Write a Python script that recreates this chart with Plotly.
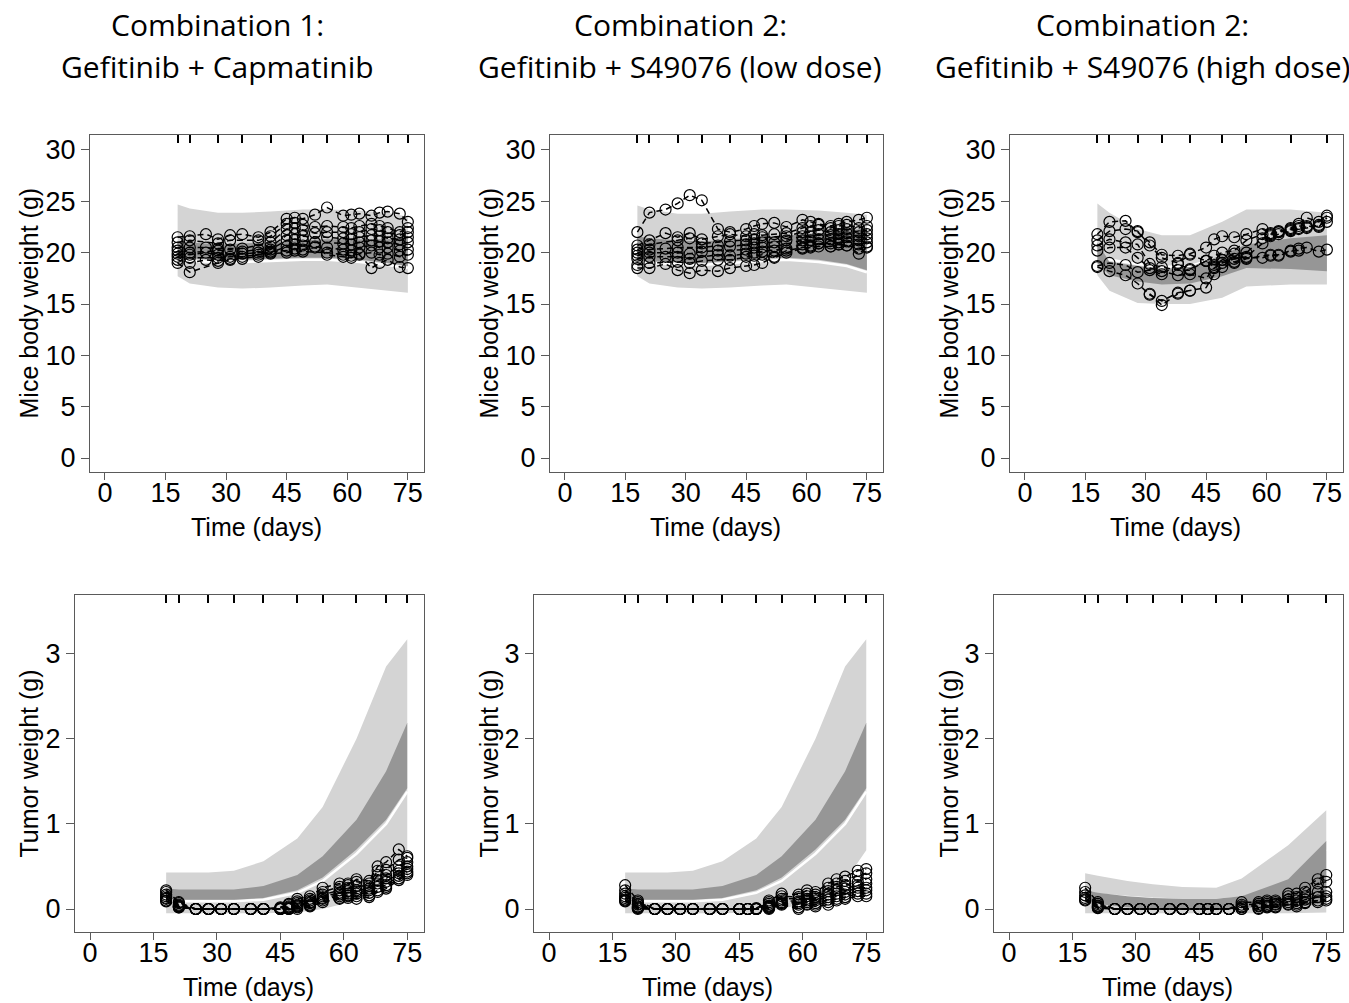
import plotly.graph_objects as go

# ---------------- data ----------------
DAYS = [18, 21, 25, 28, 31, 34, 38, 41, 45, 47, 49, 52, 55, 59, 61, 63, 66, 68, 70, 73, 75]
BINS = [18, 21, 28, 34, 41, 49, 55, 63, 70, 75]
BINS_HIGH = [18, 21, 28, 34, 41, 49, 55, 66, 75]
RUG_COMBO = [18, 21, 28, 34, 41, 49, 55, 63, 70, 75]
RUG_HIGH = [18, 21, 28, 34, 41, 49, 55, 66, 75]

TITLE_TOP = ["Combination 1:", "Combination 2:", "Combination 2:"]
TITLE_BOTTOM = ["Gefitinib + Capmatinib", "Gefitinib + S49076 (low dose)", "Gefitinib + S49076 (high dose)"]
X_TICKS = [0, 15, 30, 45, 60, 75]
BW_TICKS = [0, 5, 10, 15, 20, 25, 30]
TW_TICKS = [0, 1, 2, 3]

# Body weight bands: combination 1
BW1_LO = [17.7, 17.0, 16.6, 16.5, 16.6, 16.8, 16.9, 16.6, 16.3, 16.1]
BW1_GAP = [19.3, 19.2, 19.1, 19.1, 19.2, 19.3, 19.3, 19.1, 18.8, 18.5]
BW1_LOM = [19.5, 19.4, 19.3, 19.3, 19.4, 19.5, 19.5, 19.3, 19.0, 18.7]
BW1_HIM = [21.1, 21.0, 20.8, 20.9, 21.0, 21.2, 21.3, 21.3, 21.3, 21.5]
BW1_HI = [24.7, 24.3, 23.9, 23.9, 24.0, 24.2, 24.2, 24.1, 23.9, 23.5]

# Body weight bands: combination 2 low dose
BW2_LO = [17.7, 17.0, 16.6, 16.5, 16.6, 16.8, 16.9, 16.6, 16.3, 16.1]
BW2_GAP = [19.0, 19.0, 18.9, 18.8, 19.0, 19.2, 19.3, 19.1, 18.7, 18.1]
BW2_LOM = [19.2, 19.2, 19.1, 19.0, 19.2, 19.4, 19.5, 19.3, 18.9, 18.3]
BW2_HIM = [21.6, 21.4, 21.2, 21.1, 21.3, 21.5, 21.7, 21.9, 22.1, 22.4]
BW2_HI = [24.6, 24.2, 23.8, 23.8, 24.0, 24.2, 24.2, 24.1, 23.9, 23.7]

# Body weight bands: combination 2 high dose
BW3_LO = [17.8, 16.3, 15.1, 15.0, 15.0, 15.6, 16.7, 16.9, 16.9]
BW3_GAP = [19.5, 19.3, 18.9, 18.6, 18.7, 19.6, 20.4, 20.9, 21.0]
BW3_LOM = [19.0, 17.8, 17.2, 16.9, 17.0, 17.7, 18.5, 18.4, 18.2]
BW3_HIM = [21.0, 19.1, 18.7, 18.4, 18.6, 19.8, 20.8, 21.4, 21.7]
BW3_HI = [24.8, 23.9, 22.3, 21.7, 21.7, 23.0, 24.2, 24.2, 23.9]

# Tumor weight bands
TW1_LO = [-0.05, -0.05, -0.05, -0.05, -0.05, -0.04, 0.0, 0.10, 0.35, 0.70]
TW1_GAP = [0.10, 0.09, 0.09, 0.09, 0.11, 0.19, 0.33, 0.65, 1.00, 1.38]
TW1_LOM = [0.12, 0.11, 0.11, 0.11, 0.13, 0.22, 0.37, 0.70, 1.05, 1.42]
TW1_HIM = [0.24, 0.23, 0.23, 0.23, 0.27, 0.40, 0.62, 1.05, 1.62, 2.19]
TW1_HI = [0.43, 0.43, 0.43, 0.45, 0.56, 0.83, 1.20, 2.00, 2.85, 3.17]

TW2_LO = [-0.05, -0.05, -0.05, -0.05, -0.05, -0.04, 0.0, 0.10, 0.33, 0.69]
TW2_GAP = [0.10, 0.09, 0.09, 0.09, 0.11, 0.19, 0.33, 0.65, 1.00, 1.38]
TW2_LOM = [0.12, 0.11, 0.11, 0.11, 0.13, 0.22, 0.37, 0.70, 1.05, 1.42]
TW2_HIM = [0.24, 0.23, 0.23, 0.23, 0.27, 0.40, 0.62, 1.05, 1.62, 2.19]
TW2_HI = [0.43, 0.43, 0.43, 0.45, 0.56, 0.83, 1.20, 2.00, 2.85, 3.17]

TW3_LO = [-0.05, -0.05, -0.05, -0.05, -0.05, -0.05, -0.05, -0.05, -0.04]
TW3_GAP = [0.20, 0.17, 0.14, 0.12, 0.11, 0.11, 0.13, 0.30, 0.70]
TW3_LOM = [0.10, 0.06, 0.02, 0.00, 0.00, 0.00, 0.01, 0.03, 0.06]
TW3_HIM = [0.22, 0.19, 0.15, 0.13, 0.12, 0.12, 0.15, 0.35, 0.80]
TW3_HI = [0.42, 0.39, 0.33, 0.29, 0.26, 0.25, 0.36, 0.75, 1.16]

N = None
# Observed individual body weights (one list per mouse, values at DAYS)
BW1_MICE = [
    [21.5, 21.6, 21.8, 21.3, 21.7, 21.8, 21.5, 22.0, 23.3, 23.4, 23.3, 23.7, 24.4, 23.6, 23.7, 23.8, 23.6, 23.9, 24.0, 23.8, 23.0],
    [21.0, 21.2, N, 20.9, 21.2, N, 21.2, 21.6, 22.8, 22.9, 22.7, 22.5, 22.6, 22.5, 22.4, 22.6, 22.8, 22.6, 22.4, 22.0, 22.4],
    [20.5, 20.5, 20.5, 20.4, N, 20.4, N, 21.0, 22.3, 22.4, 22.2, 21.9, 22.0, 22.0, 21.8, 22.0, 22.3, 22.2, 22.0, 21.7, 22.0],
    [20.2, 20.0, N, 20.2, 20.3, 20.1, 20.3, 20.6, 21.7, 21.8, 21.6, N, 21.5, 21.4, 21.3, 21.5, 21.7, 21.6, 21.4, 21.3, 21.5],
    [19.9, 19.8, 20.0, 19.8, N, 19.9, 20.0, 20.3, 21.2, 21.3, 21.2, 21.0, N, 20.9, 20.8, 21.0, 21.2, 21.1, 21.0, 20.8, 21.0],
    [19.6, 19.5, N, 19.5, 19.6, 19.6, N, 20.0, 20.6, 20.8, 20.7, 20.6, 20.5, 20.3, 20.2, 20.5, 20.7, 20.5, 20.5, 20.2, 20.3],
    [19.3, 19.0, 19.3, 19.2, 19.4, N, 19.6, 19.9, 20.0, 20.2, 20.1, N, 20.0, 19.8, 19.7, 19.9, 20.0, 19.8, 19.9, 19.6, 19.8],
    [19.0, 18.1, N, 19.0, 19.3, 19.4, 19.8, 20.1, 20.2, 20.4, 20.3, 20.5, 19.8, 19.6, 19.5, 19.8, 18.5, 19.0, 19.3, 18.6, 18.5],
]
BW2_MICE = [
    [22.0, 23.9, 24.2, 24.8, 25.6, 25.1, 22.3, 22.0, 22.3, 22.6, 22.8, 22.9, 22.5, 23.2, 23.0, 22.8, 22.6, 22.8, 23.0, 23.2, 23.4],
    [18.5, 18.5, 18.9, 18.3, 18.0, 18.3, 18.2, 18.5, 18.7, 18.8, 19.0, 19.6, 20.2, 20.5, 20.6, 20.9, 20.6, 20.8, 20.7, 20.4, 20.6],
    [20.7, 21.2, 21.9, 21.5, 21.9, 21.3, 21.6, 21.8, 21.6, 21.8, 21.7, 21.8, 21.9, 22.4, 22.6, 22.7, 22.4, 22.6, 22.7, 22.4, 22.6],
    [20.3, 20.8, N, 21.2, 21.4, 20.9, N, 21.1, 21.2, 21.3, 21.5, N, 21.6, 22.0, 22.0, 22.2, 22.0, 22.2, 22.3, 22.0, 22.2],
    [20.0, 20.3, 20.4, 20.5, N, 20.5, 20.7, 20.6, 20.8, 20.9, 21.0, 21.0, 21.2, 21.6, 21.6, 21.8, 21.7, 21.8, 21.9, 21.6, 21.8],
    [19.7, 20.0, N, 20.0, 19.9, 20.1, 20.2, N, 20.3, 20.5, 20.5, 20.6, N, 21.2, 21.2, 21.3, 21.3, 21.4, 21.5, 21.2, 21.4],
    [19.4, 19.6, 19.6, 19.6, 19.4, N, 19.8, 19.7, 19.9, 20.0, 20.1, 20.2, 20.4, 20.8, 20.7, 20.9, 20.9, 21.0, 21.1, 20.8, 21.0],
    [18.8, 19.0, N, 19.1, 19.0, 19.2, 19.3, 19.3, 19.6, 19.7, 19.8, 19.5, 20.0, 20.4, 20.5, 20.6, 20.6, 20.8, 20.7, 19.9, 20.5],
]
BW3_MICE = [
    [21.8, 23.0, 23.1, 22.0, 21.0, 19.8, 19.7, 19.9, 20.5, 21.3, 21.6, 21.5, 21.8, 22.3, 21.9, 22.0, 22.4, 22.8, 23.4, 23.0, 23.6],
    [21.2, 22.1, 22.3, 22.1, 20.7, 19.5, 19.0, 19.8, 19.2, 19.7, 20.0, 20.2, 21.2, 21.8, 21.8, 22.1, 22.3, 22.6, 22.6, 22.5, 23.4],
    [20.7, 21.3, 21.0, 20.8, 18.9, 18.6, 18.3, 18.3, 19.2, 18.8, 19.3, 19.9, 20.0, 21.4, 21.7, 22.0, 22.2, 22.4, 22.5, 22.7, 23.0],
    [20.2, 20.5, 20.5, 19.5, 18.5, 18.2, 17.8, 17.9, 17.5, 18.5, 19.0, 19.4, 19.6, 20.9, 21.6, 21.8, 22.1, 22.3, 22.4, 22.6, N],
    [18.7, 19.0, 18.8, 18.1, 18.3, 17.9, 18.9, 18.4, 19.2, 18.6, 19.3, 19.1, 19.5, 19.5, 19.7, 19.7, 20.1, 20.4, 20.5, 20.1, 20.3],
    [18.6, 18.2, 17.8, 17.0, 15.9, 15.3, 16.1, 16.3, 16.6, 17.9, 18.6, 19.0, 19.4, N, 19.8, 19.8, 20.2, 20.2, N, N, N],
    [N, N, N, N, 16.0, 14.9, 16.0, 16.3, N, N, N, N, N, N, N, N, N, N, N, N, N],
]
# Observed individual tumor weights
TW1_MICE = [
    [0.22, 0.08, 0, 0, 0, 0, 0, 0, 0.02, 0.06, 0.12, 0.15, 0.25, 0.30, 0.28, 0.35, 0.33, 0.50, 0.55, 0.70, 0.62],
    [0.20, 0.07, 0, 0, 0, 0, 0, 0, 0.01, 0.05, 0.09, 0.12, 0.20, 0.26, 0.30, 0.32, 0.30, 0.45, 0.46, 0.58, 0.60],
    [0.17, 0.05, 0, 0, 0, 0, 0, 0, 0.00, 0.03, 0.07, 0.10, 0.17, 0.22, 0.25, 0.27, 0.27, 0.40, 0.40, 0.50, 0.55],
    [0.15, 0.04, 0, 0, 0, 0, 0, 0, 0.00, 0.02, 0.05, 0.08, 0.15, 0.19, 0.21, 0.22, 0.24, 0.34, 0.36, 0.45, 0.50],
    [0.13, 0.03, 0, 0, 0, 0, 0, 0, 0.00, 0.01, 0.04, 0.07, 0.13, 0.17, 0.18, 0.20, 0.22, 0.30, 0.32, 0.42, 0.47],
    [0.12, 0.03, 0, 0, 0, 0, 0, 0, 0.00, 0.00, 0.03, 0.05, 0.12, 0.15, 0.16, 0.18, 0.19, 0.26, 0.28, 0.39, 0.44],
    [0.10, 0.02, 0, 0, 0, 0, 0, 0, 0.00, 0.00, 0.02, 0.04, 0.10, 0.13, 0.15, 0.15, 0.16, 0.22, 0.26, 0.36, 0.42],
    [0.09, 0.02, 0, 0, 0, 0, 0, 0, 0.00, 0.00, 0.00, 0.03, 0.08, 0.12, 0.13, 0.12, 0.14, 0.20, 0.24, 0.34, 0.40],
]
TW2_MICE = [
    [0.28, 0.10, 0, 0, 0, 0, 0, 0, 0, 0, 0.01, 0.10, 0.18, 0.17, 0.22, 0.20, 0.30, 0.35, 0.38, 0.45, 0.47],
    [0.22, 0.08, 0, 0, 0, 0, 0, 0, 0, 0, 0.00, 0.08, 0.15, 0.14, 0.18, 0.17, 0.25, 0.30, 0.33, 0.40, 0.42],
    [0.18, 0.06, 0, 0, 0, 0, 0, 0, 0, 0, 0.00, 0.06, 0.12, 0.12, 0.15, 0.14, 0.21, 0.26, 0.28, 0.32, 0.35],
    [0.15, 0.05, 0, 0, 0, 0, 0, 0, 0, 0, 0.00, 0.04, 0.10, 0.09, 0.12, 0.12, 0.17, 0.22, 0.24, 0.28, 0.30],
    [0.13, 0.03, 0, 0, 0, 0, 0, 0, 0, 0, 0.00, 0.03, 0.08, 0.07, 0.10, 0.10, 0.14, 0.18, 0.20, 0.25, 0.25],
    [0.11, 0.02, 0, 0, 0, 0, 0, 0, 0, 0, 0.00, 0.02, 0.07, 0.05, 0.08, 0.07, 0.11, 0.15, 0.17, 0.21, 0.22],
    [0.10, 0.01, 0, 0, 0, 0, 0, 0, 0, 0, 0.00, 0.01, 0.06, 0.02, 0.06, 0.05, 0.08, 0.12, 0.14, 0.18, 0.18],
    [0.09, 0.00, 0, 0, 0, 0, 0, 0, 0, 0, 0.00, 0.00, 0.05, 0.00, 0.05, 0.03, 0.05, 0.10, 0.12, 0.15, 0.15],
]
TW3_MICE = [
    [0.25, 0.08, 0, 0, 0, 0, 0, 0, 0, 0, 0, 0, 0.08, 0.08, 0.10, 0.10, 0.18, 0.18, 0.25, 0.35, 0.40],
    [0.20, 0.06, 0, 0, 0, 0, 0, 0, 0, 0, 0, 0, 0.05, 0.06, 0.08, 0.08, 0.15, 0.14, 0.20, 0.30, 0.32],
    [0.16, 0.04, 0, 0, 0, 0, 0, 0, 0, 0, 0, 0, 0.03, 0.04, 0.06, 0.06, 0.11, 0.10, 0.15, 0.20, 0.20],
    [0.13, 0.03, 0, 0, 0, 0, 0, 0, 0, 0, 0, 0, 0.02, 0.03, 0.04, 0.05, 0.08, 0.07, 0.11, 0.14, 0.15],
    [0.11, 0.02, 0, 0, 0, 0, 0, 0, 0, 0, 0, 0, 0.00, 0.01, 0.03, 0.03, 0.06, 0.05, 0.08, 0.10, 0.12],
    [0.10, 0.01, 0, 0, 0, 0, 0, 0, 0, 0, 0, 0, 0.00, 0.00, 0.02, 0.02, 0.05, 0.03, 0.07, 0.08, 0.10],
]

# ---------------- layout geometry (pixels) ----------------
W, H = 1349, 1003
LIGHT = "rgb(212,212,212)"
DARK = "rgb(150,150,150)"
AXC = "rgb(90,90,90)"

panels = [
    dict(box=(90, 424, 135, 472), xr=[-3.7, 79.0], yr=[-1.36, 31.46], bins=BINS,
         bands=(BW1_LO, BW1_GAP, BW1_LOM, BW1_HIM, BW1_HI), mice=BW1_MICE, rug=RUG_COMBO,
         yt=BW_TICKS, ytitle="Mice body weight (g)", ytx=28),
    dict(box=(550, 883, 135, 472), xr=[-3.7, 79.0], yr=[-1.36, 31.46], bins=BINS,
         bands=(BW2_LO, BW2_GAP, BW2_LOM, BW2_HIM, BW2_HI), mice=BW2_MICE, rug=RUG_COMBO,
         yt=BW_TICKS, ytitle="Mice body weight (g)", ytx=488),
    dict(box=(1010, 1343, 135, 472), xr=[-3.7, 79.0], yr=[-1.36, 31.46], bins=BINS_HIGH,
         bands=(BW3_LO, BW3_GAP, BW3_LOM, BW3_HIM, BW3_HI), mice=BW3_MICE, rug=RUG_HIGH,
         yt=BW_TICKS, ytitle="Mice body weight (g)", ytx=948),
    dict(box=(75, 424, 595, 932), xr=[-3.55, 78.96], yr=[-0.27, 3.69], bins=BINS,
         bands=(TW1_LO, TW1_GAP, TW1_LOM, TW1_HIM, TW1_HI), mice=TW1_MICE, rug=RUG_COMBO,
         yt=TW_TICKS, ytitle="Tumor weight (g)", ytx=28),
    dict(box=(534, 883, 595, 932), xr=[-3.55, 78.96], yr=[-0.27, 3.69], bins=BINS,
         bands=(TW2_LO, TW2_GAP, TW2_LOM, TW2_HIM, TW2_HI), mice=TW2_MICE, rug=RUG_COMBO,
         yt=TW_TICKS, ytitle="Tumor weight (g)", ytx=488),
    dict(box=(994, 1343, 595, 932), xr=[-3.55, 78.96], yr=[-0.27, 3.69], bins=BINS_HIGH,
         bands=(TW3_LO, TW3_GAP, TW3_LOM, TW3_HIM, TW3_HI), mice=TW3_MICE, rug=RUG_HIGH,
         yt=TW_TICKS, ytitle="Tumor weight (g)", ytx=948),
]

fig = go.Figure()
layout = dict(
    width=W, height=H, margin=dict(l=0, r=0, t=0, b=0),
    paper_bgcolor="white", plot_bgcolor="white", showlegend=False,
    font=dict(family="Liberation Sans, Arial, sans-serif", color="black"),
)
annotations = []

for i, p in enumerate(panels, start=1):
    xs = "x" if i == 1 else f"x{i}"
    ys = "y" if i == 1 else f"y{i}"
    lo, gap, lom, him, hi = p["bands"]
    b = p["bins"]
    fig.add_trace(go.Scatter(x=b + b[::-1], y=hi + lo[::-1], fill="toself", fillcolor=LIGHT,
                             line=dict(width=0), mode="lines", hoverinfo="skip", xaxis=xs, yaxis=ys))
    fig.add_trace(go.Scatter(x=b, y=gap, mode="lines", line=dict(color="white", width=2.5),
                             hoverinfo="skip", xaxis=xs, yaxis=ys))
    fig.add_trace(go.Scatter(x=b + b[::-1], y=him + lom[::-1], fill="toself", fillcolor=DARK,
                             line=dict(width=0), mode="lines", hoverinfo="skip", xaxis=xs, yaxis=ys))
    for m in p["mice"]:
        fig.add_trace(go.Scatter(
            x=DAYS, y=m, mode="lines+markers", connectgaps=True,
            line=dict(color="black", width=1.5, dash="6px,4px"),
            marker=dict(symbol="circle-open", size=11, color="black", line=dict(width=1.2)),
            xaxis=xs, yaxis=ys))
    fig.add_trace(go.Scatter(x=[p["rug"][0]], y=[None], mode="markers", xaxis=f"x{i+6}", yaxis=ys,
                             showlegend=False, hoverinfo="skip"))

    x0, x1, y0, y1 = p["box"]
    xdom = [x0 / W, x1 / W]
    ydom = [1 - y1 / H, 1 - y0 / H]
    xkey = "xaxis" if i == 1 else f"xaxis{i}"
    ykey = "yaxis" if i == 1 else f"yaxis{i}"
    layout[xkey] = dict(domain=xdom, range=p["xr"], anchor=ys, tickvals=X_TICKS, ticks="outside",
                        ticklen=7, tickwidth=1.2, tickcolor=AXC, showline=True, mirror=True,
                        linecolor=AXC, linewidth=1.3, showgrid=False, zeroline=False,
                        ticklabelstandoff=-11,
                        tickfont=dict(size=27, color="black"), fixedrange=True)
    layout[ykey] = dict(domain=ydom, range=p["yr"], anchor=xs, tickvals=p["yt"], ticks="outside",
                        ticklen=8, tickwidth=1.2, tickcolor=AXC, showline=True, mirror=True,
                        linecolor=AXC, linewidth=1.3, showgrid=False, zeroline=False,
                        tickfont=dict(size=27, color="black"), fixedrange=True)
    layout[f"xaxis{i+6}"] = dict(overlaying=xs, side="top", anchor=ys, range=p["xr"],
                                 tickvals=p["rug"], ticks="inside", ticklen=8, tickwidth=2.2,
                                 tickcolor="black", showticklabels=False, showline=False,
                                 showgrid=False, zeroline=False, fixedrange=True)
    xc = x0 + (37.5 - p["xr"][0]) / (p["xr"][1] - p["xr"][0]) * (x1 - x0)
    tx_y = 527 if i <= 3 else 987
    annotations.append(dict(text="Time (days)", x=xc / W, y=1 - tx_y / H, xref="paper", yref="paper",
                            showarrow=False, xanchor="center", yanchor="middle",
                            font=dict(size=25, color="black")))
    annotations.append(dict(text=p["ytitle"], x=p["ytx"] / W, y=1 - ((y0 + y1) / 2) / H,
                            xref="paper", yref="paper", showarrow=False, textangle=-90,
                            xanchor="center", yanchor="middle", font=dict(size=25, color="black")))

title_cx = [217, 680, 1142]
for k in range(3):
    annotations.append(dict(text=TITLE_TOP[k], x=title_cx[k] / W, y=1 - 25 / H, xref="paper", yref="paper",
                            showarrow=False, xanchor="center", yanchor="middle",
                            font=dict(family="Open Sans", size=30, color="black")))
    annotations.append(dict(text=TITLE_BOTTOM[k], x=title_cx[k] / W, y=1 - 67 / H, xref="paper", yref="paper",
                            showarrow=False, xanchor="center", yanchor="middle",
                            font=dict(family="Open Sans", size=30, color="black")))

layout["annotations"] = annotations
fig.update_layout(**layout)
fig.write_html("out.html", config={"displayModeBar": False},
               post_script="document.body.style.margin='0px';document.body.style.overflow='hidden';")
